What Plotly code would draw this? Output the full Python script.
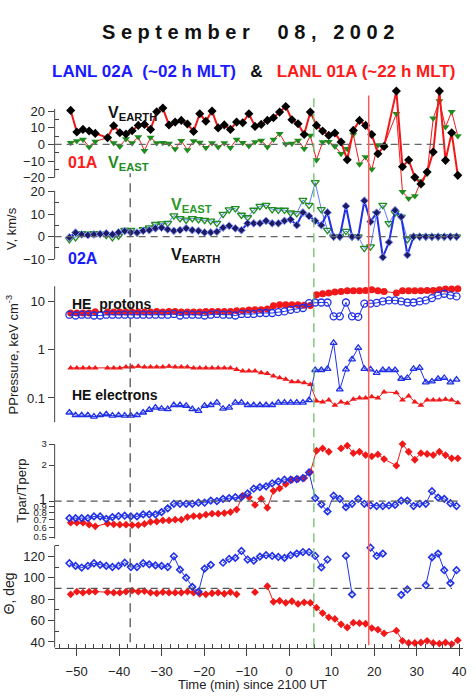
import plotly.graph_objects as go

# ---------------- data ----------------
# sample times (min since 2100 UT)
T_01A = [-51.40, -49.95, -48.51, -47.06, -45.62, -42.73, -41.28, -39.84, -38.39,
         -36.95, -35.50, -34.05, -32.61, -31.16, -29.72, -28.27, -26.83, -25.38, -23.94,
         -22.49, -21.04, -19.60, -18.15, -16.71, -15.26, -13.82, -12.37, -10.93, -9.48,
         -8.04, -6.59, -5.14, -3.70, -2.25, -0.81, 0.64, 2.08, 3.53, 4.97,
         6.42, 7.86, 9.31, 10.75, 12.20, 13.65, 15.09, 16.54, 17.98, 19.43,
         20.87, 22.32, 25.21, 26.65, 28.10, 29.55, 30.99, 32.44, 33.88,
         35.33, 36.77, 38.22, 39.66]
T_02A = [-51.70, -50.25, -48.81, -47.36, -45.92, -44.47, -43.03, -41.58, -40.14, -38.69,
         -37.25, -35.80, -34.35, -32.91, -31.46, -30.02, -28.57, -27.13, -25.68, -24.24,
         -22.79, -21.34, -19.90, -18.45, -17.01, -15.56, -14.12, -12.67, -11.23, -9.78,
         -8.34, -6.89, -5.44, -4.00, -2.55, -1.11, 0.34, 1.78, 3.23, 4.67,
         6.12, 7.56, 9.01, 10.45, 11.90, 13.35, 14.79, 16.24, 17.68, 19.13,
         20.57, 22.02, 23.46, 24.91, 26.35, 27.80, 29.25, 30.69, 32.14, 33.58,
         35.03, 36.47, 37.92, 39.36]

# LANL 01A flow velocity (km/s)
V_EARTH_01A = [20.4, 7.4, 9.0, 8.0, 6.6, 4.0, 11.2, 7.0, 6.2,
               8.2, 11.4, 12.0, 9.0, 19.6, 21.8, 11.6, 13.4, 14.4, 12.2,
               7.8, 18.4, 13.9, 20.0, 9.9, 11.7, 9.0, 13.4, 13.0, 18.4,
               10.8, 12.0, 14.4, 16.0, 19.4, 22.8, 14.8, 12.4, 5.9, 19.4,
               11.4, 8.0, 5.4, 6.8, 1.4, -9.2, 8.4, 14.4, 11.4, 5.9,
               -5.6, -1.2, 32.0, -13.4, -9.4, -19.8, -23.8, -16.6, -4.6,
               32.0, -9.6, 7.0, -18.6]
V_EAST_01A = [1.0, 2.0, 3.0, -1.5, 1.8, 4.0, 0.8, -1.2, 3.2,
              0.8, 4.4, -3.8, 4.2, 0.8, 1.0, 0.6, -2.8, 2.2, -3.4,
              2.0, 1.2, -2.0, 0.8, -1.6, 0.9, -2.0, 3.0, 1.0, -1.0,
              1.4, 2.4, -1.6, 3.0, 6.4, 0.2, 0.6, 2.4, -2.6, 5.4,
              -9.4, 1.4, 1.6, -1.3, -5.6, -2.6, 6.0, -12.0, -7.6, -15.0,
              -0.3, -0.6, 18.4, -28.5, -32.5, -31.0, -22.0, -17.6, 15.7,
              26.0, 10.4, 19.6, 5.0]

# LANL 02A flow velocity (km/s)
V_EARTH_02A = [-0.3, 1.8, 1.0, 0.7, 1.0, 1.2, 1.5, 1.0, 1.9, 2.5,
               1.9, 1.8, 2.6, 2.9, 3.7, 4.0, 3.2, 2.6, 2.9, 3.7,
               2.9, 2.6, 1.9, 1.9, 2.2, 4.0, 4.8, 3.7, 2.9, 5.9,
               5.9, 5.9, 7.0, 5.9, 5.9, 7.0, 7.6, 5.1, 10.7, 9.1,
               7.0, 5.1, 10.7, 0, 0, 13.5, 0, 0, 15.9, 6.6,
               10.6, -9.1, -2.5, 11.7, 8.8, -8.1, 0, 0, 0, 0,
               0, 0, 0, 0]
V_EAST_02A = [-1.2, -0.3, 1.5, 1.2, 1.5, 1.2, 0.7, -0.3, 0.3, 2.9,
              2.9, 1.8, 3.2, 4.0, 5.5, 5.8, 6.0, 9.3, 8.1, 7.4,
              8.1, 7.6, 7.3, 7.0, 6.0, 10.0, 12.0, 12.5, 9.6, 8.5,
              11.8, 13.5, 14.0, 12.1, 11.8, 11.8, 10.6, 10.3, 16.2, 14.0,
              24.0, 12.1, 2.9, 0, 0, 2.5, 0, 0, -5.1, -4.4,
              10.3, 14.0, 5.9, 10.6, 8.8, -1.2, 0, 0, 0, 0,
              0, 0, 0, 0]

# high-energy partial pressures (keV cm^-3)
P_PROT_01A = [5.75, 5.75, 5.75, 5.75, 6.1, 6.0, 6.0, 6.0, 6.0,
              6.0, 6.0, 6.0, 6.0, 6.2, 6.0, 6.2, 6.2, 6.0, 6.0,
              6.0, 6.0, 6.2, 6.2, 6.2, 6.2, 6.2, 6.4, 6.4, 6.6,
              6.7, 6.7, 7.0, 8.15, 8.5, 8.5, 8.5, 8.5, 8.3, 8.2,
              13.7, 14.4, 14.9, 15.6, 16.1, 16.6, 16.6, 16.6, 16.9, 17.4,
              16.6, 16.1, 14.9, 16.6, 16.6, 16.6, 16.6, 16.9, 16.9,
              17.4, 18.0, 18.0, 18.3]
P_PROT_02A = [5.3, 5.1, 5.3, 5.3, 5.1, 5.1, 5.3, 5.3, 5.3, 5.3,
              5.3, 5.3, 5.3, 5.3, 5.3, 5.3, 5.3, 5.5, 5.1, 5.3,
              5.3, 5.3, 5.1, 5.3, 5.5, 5.3, 5.3, 5.1, 5.5, 5.5,
              5.5, 5.75, 5.75, 5.75, 6.0, 6.2, 6.7, 7.0, 7.3, 9.2,
              9.5, 9.5, 9.5, 4.9, 4.9, 9.5, 4.9, 4.8, 9.0, 9.0,
              9.3, 10.0, 10.5, 10.5, 10.0, 9.5, 9.5, 10.0, 10.5, 11.7,
              13.3, 14.4, 13.3, 12.7]
P_ELEC_01A = [0.42, 0.42, 0.42, 0.42, 0.42, 0.42, 0.42, 0.42, 0.44,
              0.44, 0.455, 0.44, 0.44, 0.44, 0.44, 0.455, 0.44, 0.44, 0.44,
              0.42, 0.42, 0.42, 0.42, 0.42, 0.42, 0.42, 0.39, 0.36, 0.36,
              0.36, 0.333, 0.323, 0.284, 0.263, 0.243, 0.217, 0.217, 0.207, 0.19,
              0.087, 0.083, 0.091, 0.071, 0.083, 0.078, 0.094, 0.10, 0.10, 0.106,
              0.10, 0.133, 0.129, 0.091, 0.11, 0.083, 0.071, 0.091, 0.091,
              0.091, 0.094, 0.091, 0.08]
P_ELEC_02A = [0.050, 0.044, 0.044, 0.044, 0.041, 0.044, 0.046, 0.043, 0.044, 0.043,
              0.043, 0.044, 0.050, 0.057, 0.063, 0.060, 0.059, 0.071, 0.071, 0.069,
              0.059, 0.054, 0.069, 0.071, 0.080, 0.060, 0.063, 0.080, 0.080, 0.071,
              0.071, 0.071, 0.071, 0.071, 0.080, 0.080, 0.080, 0.080, 0.080, 0.090,
              0.38, 0.38, 0.40, 1.39, 0.15, 0.39, 0.63, 1.09, 0.40, 0.39,
              0.33, 0.38, 0.38, 0.38, 0.25, 0.26, 0.40, 0.42, 0.21, 0.22,
              0.25, 0.26, 0.21, 0.24]

# temperature anisotropy Tpar/Tperp
TRATIO_01A = [0.66, 0.66, 0.66, 0.635, 0.615, 0.65, 0.64, 0.635, 0.635,
              0.63, 0.63, 0.645, 0.67, 0.675, 0.69, 0.69, 0.70, 0.70, 0.735,
              0.75, 0.75, 0.77, 0.785, 0.785, 0.795, 0.81, 0.85, 1.11, 1.08,
              0.93, 1.045, 0.88, 1.22, 1.28, 1.39, 1.51, 1.53, 1.56, 1.75,
              2.64, 2.76, 2.59, None, 2.76, 2.91, 2.52, 2.59, 2.43, 2.37,
              2.46, 2.25, 1.98, 3.0, 2.59, 2.22, 2.52, 2.48, 2.43,
              2.59, 2.43, 2.28, 2.28]
TRATIO_02A = [0.72, 0.72, 0.72, 0.72, 0.745, 0.745, 0.71, 0.735, 0.75, 0.755,
              0.745, 0.745, 0.775, 0.775, 0.775, 0.81, 0.87, 0.95, 0.95, 0.95,
              0.95, 0.97, 0.97, 1.01, 1.0, 1.045, 1.06, 1.08, 1.08, 1.16,
              1.27, 1.31, 1.33, 1.41, 1.46, 1.51, 1.51, 1.53, 1.56, 1.74,
              1.06, 0.94, 0.82, 1.11, 1.045, 0.89, 0.95, 1.045, 0.95, 0.92,
              0.91, 0.91, 0.92, 0.93, 1.01, 1.01, 0.91, 0.95, 0.95, 1.21,
              1.07, 1.045, 0.96, 0.91]

# field angle Theta (deg)
THETA_01A = [84.5, 87, 86, 87, 87, 86.5, 86, 86, 87,
             88, 87, 87.5, 86, 85.5, 86.5, 86, 86, 86, 87,
             86, 85, 84.5, 85.5, 86, 85, 86.5, 84.5, None, None,
             86.5, None, 92, 77.5, 78.5, 76.5, 78, 75.5, 77, 76.5,
             72, 67, 63, 61.5, 56.5, 53.5, 58, 57.5, 57, 53,
             51.5, 48, 50.5, 41, 39, 39, 39.5, 41, 39,
             38.5, 39.5, 38, 41.5]
THETA_02A = [113.5, 111, 109.5, 111, 113.5, 112, 111, 110, 111, 114,
             110, 110, 113.5, 112.5, 111.5, 111, 110, 120, 107.5, 100,
             91.5, 87, 108.5, 112, None, 114, 117.5, 118.5, 125, 117,
             116, 119.7, 121, 120.3, 119.4, 118.5, 121, 122.5, 124, 124,
             120.3, 109.7, 117, None, None, 120.3, 84.4, None, None, 128,
             120.3, 122.5, None, None, 84, 89, None, None, 93, 119,
             122.5, 107, 95, 107]

EVENT_TIMES = [-37.4, 5.8, 18.7]   # dashed black, dashed green, solid red

for s in (V_EARTH_01A, V_EAST_01A, P_PROT_01A, P_ELEC_01A, TRATIO_01A, THETA_01A):
    assert len(s) == len(T_01A), len(s)
for s in (V_EARTH_02A, V_EAST_02A, P_PROT_02A, P_ELEC_02A, TRATIO_02A, THETA_02A):
    assert len(s) == len(T_02A), len(s)

# ---------------- styling ----------------
W, H = 476, 700
FONT = "Liberation Sans, Arial, sans-serif"
RED = "#f01818"
BLUE = "#2030e6"
LBLUE = "#5a7cff"
GREEN = "#1e8c1e"
NAVY = "#1c1c66"
AX = "#444444"


def py(p):
    return 1 - p / H


def px(p):
    return p / W


XR = [-55.17, 40.9]
XDOM = [px(55), px(466)]

fig = go.Figure()


def add(row, x, y, **kw):
    fig.add_trace(go.Scatter(
        x=x, y=y, mode="lines+markers", showlegend=False, cliponaxis=False,
        xaxis="x" if row == 1 else f"x{row}", yaxis="y" if row == 1 else f"y{row}",
        hoverinfo="skip", **kw))


# panel 1 : LANL 01A velocities
add(1, T_01A, V_EAST_01A, line=dict(color=RED, width=1),
    marker=dict(symbol="triangle-down", size=7, color=GREEN))
add(1, T_01A, V_EARTH_01A, line=dict(color=RED, width=2),
    marker=dict(symbol="diamond", size=7, color="black"))
# panel 2 : LANL 02A velocities
add(2, T_02A, V_EAST_02A, line=dict(color=LBLUE, width=1),
    marker=dict(symbol="triangle-down-open", size=7, color=GREEN, line=dict(width=1.3)))
add(2, T_02A, V_EARTH_02A, line=dict(color=BLUE, width=2),
    marker=dict(symbol="diamond", size=6, color=NAVY, line=dict(color="#8a95ff", width=1)))
# panel 3 : pressures
add(3, T_01A, P_PROT_01A, line=dict(color=RED, width=1),
    marker=dict(symbol="circle", size=7, color=RED))
add(3, T_02A, P_PROT_02A, line=dict(color=BLUE, width=1),
    marker=dict(symbol="circle-open", size=7, color=BLUE, line=dict(width=1.3)))
add(3, T_01A, P_ELEC_01A, line=dict(color=RED, width=1),
    marker=dict(symbol="triangle-up", size=6, color=RED))
add(3, T_02A, P_ELEC_02A, line=dict(color=BLUE, width=1),
    marker=dict(symbol="triangle-up-open", size=6, color=BLUE, line=dict(width=1.3)))
# panel 4 : anisotropy
add(4, T_01A, TRATIO_01A, line=dict(color=RED, width=1),
    marker=dict(symbol="diamond", size=6, color=RED))
add(4, T_02A, TRATIO_02A, line=dict(color=BLUE, width=1),
    marker=dict(symbol="diamond-open", size=5, color=BLUE, line=dict(width=1.6)))
# panel 5 : theta
add(5, T_01A, THETA_01A, line=dict(color=RED, width=1),
    marker=dict(symbol="diamond", size=6, color=RED))
add(5, T_02A, THETA_02A, line=dict(color=BLUE, width=1),
    marker=dict(symbol="diamond-open", size=5, color=BLUE, line=dict(width=1.6)))

tickfont = dict(family=FONT, size=13, color="#222")
ycommon = dict(showgrid=False, zeroline=False, showline=False, ticks="outside",
               ticklen=6, tickcolor=AX, tickfont=tickfont, anchor="x")

layout = dict(
    width=W, height=H, margin=dict(l=0, r=0, t=0, b=0),
    paper_bgcolor="white", plot_bgcolor="rgba(0,0,0,0)",
    font=dict(family=FONT, color="#222"),
)
for i in range(1, 6):
    k = "xaxis" if i == 1 else f"xaxis{i}"
    ya = "y" if i == 1 else f"y{i}"
    layout[k] = dict(domain=XDOM, range=XR, visible=False, anchor=ya)
layout["xaxis5"] = dict(
    domain=XDOM, range=XR, anchor="y5", visible=True, showgrid=False, zeroline=False,
    showline=True, linecolor=AX, linewidth=1, ticks="outside", ticklen=7, tickcolor=AX,
    ticklabelstandoff=5,
    tickvals=[-50, -40, -30, -20, -10, 0, 10, 20, 30, 40], tickfont=tickfont,
    minor=dict(dtick=2, tick0=0, ticks="inside", ticklen=4, tickcolor=AX))

layout["yaxis"] = dict(ycommon, domain=[py(200), py(88)], range=[-33.5, 33.5],
                       tickvals=[-20, -10, 0, 10, 20],
                       minor=dict(tickmode="array", tickvals=[-15, -5, 5, 15],
                                  ticks="inside", ticklen=4, tickcolor=AX))
layout["yaxis2"] = dict(ycommon, anchor="x2", domain=[py(268), py(170)], range=[-13.8, 29.4],
                        tickvals=[-10, 0, 10, 20],
                        minor=dict(tickmode="array", tickvals=[-5, 5, 15],
                                   ticks="inside", ticklen=4, tickcolor=AX))
layout["yaxis3"] = dict(ycommon, anchor="x3", type="log", domain=[py(432), py(284)],
                        range=[-1.687, 1.365], tickvals=[0.1, 1, 10],
                        ticktext=["0.1", "1", "10"])
layout["yaxis4"] = dict(ycommon, anchor="x4", type="log", domain=[py(545), py(440)],
                        range=[-0.356, 0.519],
                        tickvals=[0.5, 0.6, 0.7, 0.8, 0.9, 1, 2, 3],
                        ticktext=["0.5", "0.6", "0.7", "0.8", "0.9",
                                  '<span style="font-size:14px">1</span>', "2", "3"],
                        tickfont=dict(family=FONT, size=9.5, color="#222"), ticklen=5)
layout["yaxis5"] = dict(ycommon, anchor="x5", domain=[py(649.3), py(545)], range=[34.8, 131.8],
                        tickvals=[40, 60, 80, 100, 120],
                        minor=dict(tickmode="array", tickvals=[50, 70, 90, 110, 130],
                                   ticks="inside", ticklen=4, tickcolor=AX))

shapes = []
# y axis lines (span of tick range only)
for top, bot in [(108.5, 177.5), (190.5, 259.5), (286.5, 423), (445, 540), (547, 649.3)]:
    shapes.append(dict(type="line", xref="paper", yref="paper", x0=px(55), x1=px(55),
                       y0=py(bot), y1=py(top), line=dict(color=AX, width=1)))
# reference dashed lines
DASH = "7px,5px"
shapes.append(dict(type="line", xref="x", yref="y", x0=XR[0], x1=36.7, y0=0, y1=0,
                   line=dict(color="#666", width=1.2, dash=DASH)))
shapes.append(dict(type="line", xref="x2", yref="y2", x0=XR[0], x1=40.2, y0=0, y1=0,
                   line=dict(color="#666", width=1.2, dash=DASH)))
shapes.append(dict(type="line", xref="x4", yref="paper", x0=XR[0], x1=40.0,
                   y0=py(502.3), y1=py(502.3), line=dict(color="#555", width=1.2, dash=DASH)))
shapes.append(dict(type="line", xref="x5", yref="y5", x0=XR[0], x1=38.3, y0=90, y1=90,
                   line=dict(color="#555", width=1.2, dash=DASH)))
# event lines
shapes.append(dict(type="line", xref="x5", yref="paper", x0=EVENT_TIMES[0], x1=EVENT_TIMES[0],
                   y0=py(644), y1=py(173), line=dict(color="#555", width=1.3, dash="9px,6px")))
shapes.append(dict(type="line", xref="x5", yref="paper", x0=EVENT_TIMES[1], x1=EVENT_TIMES[1],
                   y0=py(649), y1=py(96), line=dict(color="#6cbf6c", width=1.3, dash="9px,6px")))
shapes.append(dict(type="line", xref="x5", yref="paper", x0=EVENT_TIMES[2], x1=EVENT_TIMES[2],
                   y0=py(647), y1=py(95), line=dict(color="#ff5a5a", width=1.5)))
layout["shapes"] = shapes

NB = "\u00a0"


def ann(x, y, text, size, color="#111", xanchor="left", angle=0, yanchor="middle"):
    return dict(x=px(x), y=py(y), xref="paper", yref="paper", text=text, showarrow=False,
                xanchor=xanchor, yanchor=yanchor, textangle=angle,
                font=dict(family=FONT, size=size, color=color))


title = NB.join("September") + NB * 5 + NB.join("08,") + NB * 3 + NB.join("2002")
sub = ('<b><span style="color:#1a1aff">LANL 02A' + NB + NB + '(~02 h MLT)</span>'
       + NB * 3 + '&amp;' + NB * 3
       + '<span style="color:#ff1a1a">LANL 01A (~22 h MLT)</span></b>')
annotations = [
    ann(250, 31, "<b>" + title + "</b>", 20, "#111", "center"),
    ann(255, 71, sub, 17, "#111", "center"),
    ann(107, 113, "<b>V<sub>EARTH</sub></b>", 16, "#111"),
    ann(66, 162, "<b>01A</b>", 16, "#ff1a1a"),
    ann(107, 163, "<b>V<sub>EAST</sub></b>", 16, GREEN),
    ann(170, 205, "<b>V<sub>EAST</sub></b>", 16, "#2a9a2a"),
    ann(66, 259, "<b>02A</b>", 16, "#1a1aff"),
    ann(170, 256, "<b>V<sub>EARTH</sub></b>", 16, "#111"),
    ann(70, 304, "<b>HE" + NB + NB + "protons</b>", 14, "#111"),
    ann(70, 396, "<b>HE electrons</b>", 14, "#111"),
    ann(11, 228, "V, km/s", 13, "#222", "center", -90),
    ann(13, 355, "PPressure, keV cm<sup>-3</sup>", 13, "#222", "center", -90),
    ann(22, 492, "Tpar/Tperp", 13, "#222", "center", -90),
    ann(10, 595, "\u0398, deg", 14, "#222", "center", -90),
    ann(254, 686, "Time (min) since 2100 UT", 13, "#222", "center"),
]
layout["annotations"] = annotations

fig.update_layout(**layout)
fig.write_html("out.html")
